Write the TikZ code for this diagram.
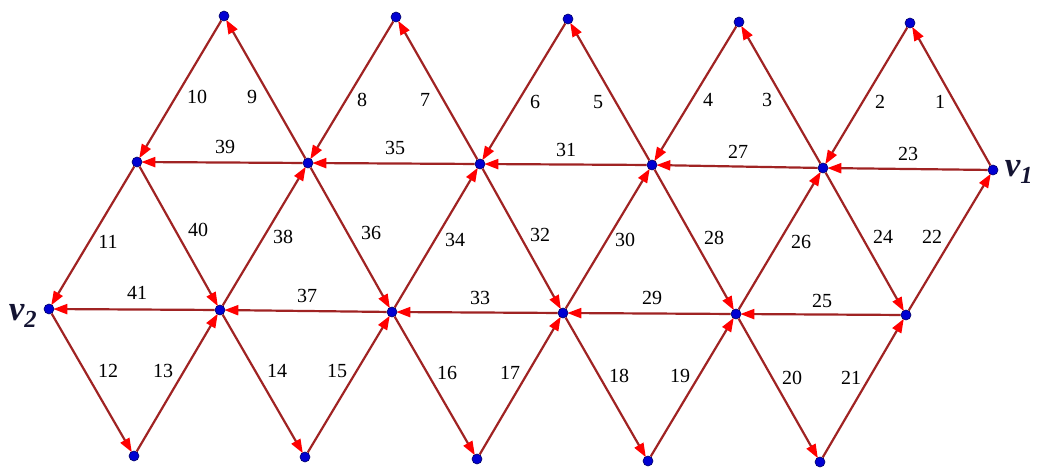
\documentclass[tikz,border=0pt]{standalone}
\usepackage{fontspec}
\setmainfont{Liberation Serif}
\usetikzlibrary{arrows.meta}
\pgfdeclarelayer{background}
\pgfsetlayers{background,main}
\definecolor{edgecol}{RGB}{160,35,35}
\definecolor{dotcol}{RGB}{0,0,210}
\definecolor{tipcol}{RGB}{255,0,0}
\definecolor{vcol}{RGB}{20,20,50}
\tikzset{
  dot/.style={circle, fill=dotcol, draw=black!60!blue, line width=0.6pt, inner sep=0pt, minimum size=10pt},
  edge/.style={draw=edgecol, line width=2.2pt, -{Triangle[length=14pt,width=10pt,color=tipcol]}, shorten >=-1pt},
  lab/.style={font=\fontsize{20}{22}\selectfont, inner sep=0pt},
  vlab/.style={font=\fontsize{35}{37}\selectfont\itshape\bfseries, text=vcol, inner sep=0pt}
}
\begin{document}
\begin{tikzpicture}[x=1pt,y=-1pt]
\useasboundingbox (0,0) rectangle (1042,470);
% vertices
\node[dot] (T1) at (224,16) {};
\node[dot] (T2) at (396,17) {};
\node[dot] (T3) at (568,19) {};
\node[dot] (T4) at (739,22) {};
\node[dot] (T5) at (910,23) {};
\node[dot] (M0) at (137,162) {};
\node[dot] (M1) at (308,163) {};
\node[dot] (M2) at (480,164) {};
\node[dot] (M3) at (652,165) {};
\node[dot] (M4) at (823,168) {};
\node[dot] (V1) at (993,170) {};
\node[dot] (V2) at (49,309) {};
\node[dot] (R1) at (220,310) {};
\node[dot] (R2) at (392,312) {};
\node[dot] (R3) at (563,313) {};
\node[dot] (R4) at (736,314) {};
\node[dot] (R5) at (906,315) {};
\node[dot] (B1) at (134,456) {};
\node[dot] (B2) at (305,457) {};
\node[dot] (B3) at (477,459) {};
\node[dot] (B4) at (648,461) {};
\node[dot] (B5) at (820,462) {};
% edges
\begin{pgfonlayer}{background}
\draw[edge] (V1) -- (T5);
\draw[edge] (T5) -- (M4);
\draw[edge] (M4) -- (T4);
\draw[edge] (T4) -- (M3);
\draw[edge] (M3) -- (T3);
\draw[edge] (T3) -- (M2);
\draw[edge] (M2) -- (T2);
\draw[edge] (T2) -- (M1);
\draw[edge] (M1) -- (T1);
\draw[edge] (T1) -- (M0);
\draw[edge] (M0) -- (V2);
\draw[edge] (V2) -- (B1);
\draw[edge] (B1) -- (R1);
\draw[edge] (R1) -- (B2);
\draw[edge] (B2) -- (R2);
\draw[edge] (R2) -- (B3);
\draw[edge] (B3) -- (R3);
\draw[edge] (R3) -- (B4);
\draw[edge] (B4) -- (R4);
\draw[edge] (R4) -- (B5);
\draw[edge] (B5) -- (R5);
\draw[edge] (R5) -- (V1);
\draw[edge] (V1) -- (M4);
\draw[edge] (M4) -- (R5);
\draw[edge] (R5) -- (R4);
\draw[edge] (R4) -- (M4);
\draw[edge] (M4) -- (M3);
\draw[edge] (M3) -- (R4);
\draw[edge] (R4) -- (R3);
\draw[edge] (R3) -- (M3);
\draw[edge] (M3) -- (M2);
\draw[edge] (M2) -- (R3);
\draw[edge] (R3) -- (R2);
\draw[edge] (R2) -- (M2);
\draw[edge] (M2) -- (M1);
\draw[edge] (M1) -- (R2);
\draw[edge] (R2) -- (R1);
\draw[edge] (R1) -- (M1);
\draw[edge] (M1) -- (M0);
\draw[edge] (M0) -- (R1);
\draw[edge] (R1) -- (V2);
\end{pgfonlayer}
% labels
\node[lab] (l1) at (940,102) {1};
\node[lab] (l2) at (880,102) {2};
\node[lab] (l3) at (767,100) {3};
\node[lab] (l4) at (708,100) {4};
\node[lab] (l5) at (598,102) {5};
\node[lab] (l6) at (535,102) {6};
\node[lab] (l7) at (425,100) {7};
\node[lab] (l8) at (362,100) {8};
\node[lab] (l9) at (252,97) {9};
\node[lab] (l10) at (197,97) {10};
\node[lab] (l39) at (225,147) {39};
\node[lab] (l35) at (395,148) {35};
\node[lab] (l31) at (566,150) {31};
\node[lab] (l27) at (738,152) {27};
\node[lab] (l23) at (908,154) {23};
\node[lab] (l11) at (108,242) {11};
\node[lab] (l40) at (198,230) {40};
\node[lab] (l38) at (283,237) {38};
\node[lab] (l36) at (371,233) {36};
\node[lab] (l34) at (455,240) {34};
\node[lab] (l32) at (540,235) {32};
\node[lab] (l30) at (625,240) {30};
\node[lab] (l28) at (714,238) {28};
\node[lab] (l26) at (801,242) {26};
\node[lab] (l24) at (883,237) {24};
\node[lab] (l22) at (932,237) {22};
\node[lab] (l41) at (137,293) {41};
\node[lab] (l37) at (307,296) {37};
\node[lab] (l33) at (480,298) {33};
\node[lab] (l29) at (652,298) {29};
\node[lab] (l25) at (822,301) {25};
\node[lab] (l12) at (108,371) {12};
\node[lab] (l13) at (163,371) {13};
\node[lab] (l14) at (277,371) {14};
\node[lab] (l15) at (337,371) {15};
\node[lab] (l16) at (447,373) {16};
\node[lab] (l17) at (510,373) {17};
\node[lab] (l18) at (619,376) {18};
\node[lab] (l19) at (680,376) {19};
\node[lab] (l20) at (792,378) {20};
\node[lab] (l21) at (851,378) {21};
\node[vlab] (lv1) at (1019,172) {v\textsubscript{1}};
\node[vlab] (lv2) at (23,316) {v\textsubscript{2}};
\end{tikzpicture}
\end{document}
